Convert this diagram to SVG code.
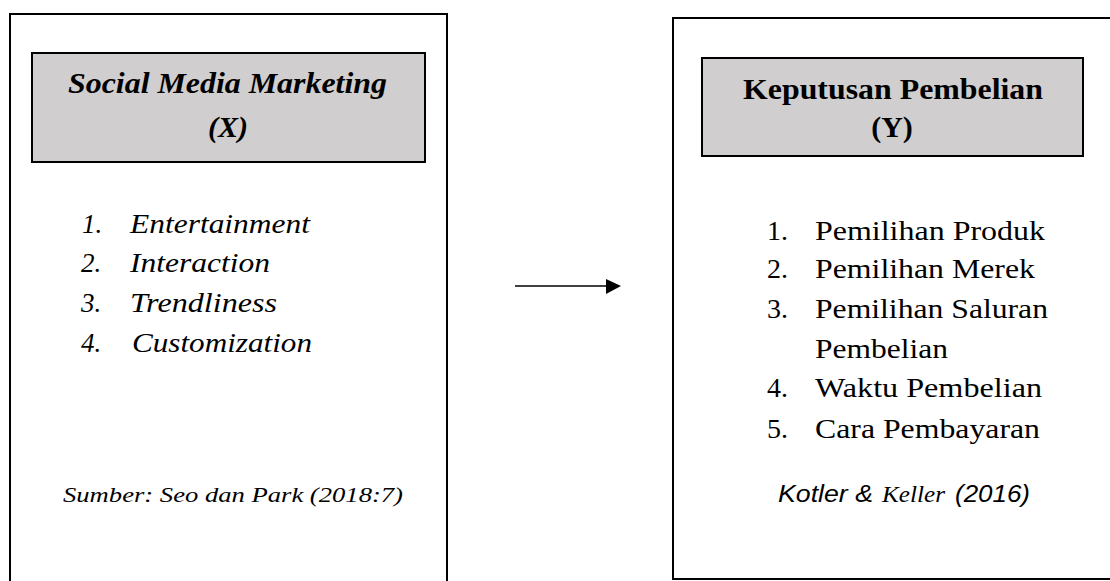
<svg xmlns="http://www.w3.org/2000/svg" width="1110" height="581" viewBox="0 0 1110 581">
<rect width="1110" height="581" fill="#fff"/>
<g id="node-x" fill="#000">
<path d="M10,581 V14 H447 V581" fill="#fff" stroke="#000" stroke-width="2"/>
<rect x="32" y="53" width="393" height="109" fill="#d0cece" stroke="#000" stroke-width="2"/>
<text font-family="Liberation Serif" font-size="30" font-weight="bold" font-style="italic" x="68" y="93" textLength="319" lengthAdjust="spacingAndGlyphs">Social Media Marketing</text>
<text font-family="Liberation Serif" font-size="30" font-weight="bold" font-style="italic" x="228" y="137" text-anchor="middle">(X)</text>
<text font-family="Liberation Serif" font-size="27" font-style="italic" x="82" y="233">1.</text>
<text font-family="Liberation Serif" font-size="27" font-style="italic" x="130" y="233" textLength="180" lengthAdjust="spacingAndGlyphs">Entertainment</text>
<text font-family="Liberation Serif" font-size="27" font-style="italic" x="81" y="272">2.</text>
<text font-family="Liberation Serif" font-size="27" font-style="italic" x="130" y="272" textLength="140" lengthAdjust="spacingAndGlyphs">Interaction</text>
<text font-family="Liberation Serif" font-size="27" font-style="italic" x="81" y="312">3.</text>
<text font-family="Liberation Serif" font-size="27" font-style="italic" x="130" y="312" textLength="147" lengthAdjust="spacingAndGlyphs">Trendliness</text>
<text font-family="Liberation Serif" font-size="27" font-style="italic" x="81" y="352">4.</text>
<text font-family="Liberation Serif" font-size="27" font-style="italic" x="132" y="352" textLength="180" lengthAdjust="spacingAndGlyphs">Customization</text>
<text font-family="Liberation Serif" font-size="22" font-style="italic" x="63" y="502" textLength="340" lengthAdjust="spacingAndGlyphs">Sumber: Seo dan Park (2018:7)</text>
</g>
<g id="node-y" fill="#000">
<path d="M1110,18 H673 V579 H1110" fill="#fff" stroke="#000" stroke-width="2"/>
<rect x="702" y="58" width="381" height="98" fill="#d0cece" stroke="#000" stroke-width="2"/>
<text font-family="Liberation Serif" font-size="30" font-weight="bold" x="743" y="99" textLength="300" lengthAdjust="spacingAndGlyphs">Keputusan Pembelian</text>
<text font-family="Liberation Serif" font-size="30" font-weight="bold" x="892" y="137" text-anchor="middle">(Y)</text>
<text font-family="Liberation Serif" font-size="28" x="767" y="240">1.</text>
<text font-family="Liberation Serif" font-size="28" x="815" y="240" textLength="230" lengthAdjust="spacingAndGlyphs">Pemilihan Produk</text>
<text font-family="Liberation Serif" font-size="28" x="767" y="278">2.</text>
<text font-family="Liberation Serif" font-size="28" x="815" y="278" textLength="220" lengthAdjust="spacingAndGlyphs">Pemilihan Merek</text>
<text font-family="Liberation Serif" font-size="28" x="767" y="318">3.</text>
<text font-family="Liberation Serif" font-size="28" x="815" y="318" textLength="233" lengthAdjust="spacingAndGlyphs">Pemilihan Saluran</text>
<text font-family="Liberation Serif" font-size="28" x="815" y="358" textLength="133" lengthAdjust="spacingAndGlyphs">Pembelian</text>
<text font-family="Liberation Serif" font-size="28" x="767" y="397">4.</text>
<text font-family="Liberation Serif" font-size="28" x="815" y="397" textLength="227" lengthAdjust="spacingAndGlyphs">Waktu Pembelian</text>
<text font-family="Liberation Serif" font-size="28" x="767" y="438">5.</text>
<text font-family="Liberation Serif" font-size="28" x="815" y="438" textLength="225" lengthAdjust="spacingAndGlyphs">Cara Pembayaran</text>
<text font-family="Liberation Sans" font-size="23" font-style="italic" x="778" y="502" textLength="95" lengthAdjust="spacingAndGlyphs">Kotler &amp;</text>
<text font-family="Liberation Serif" font-size="23" font-style="italic" x="882" y="502" textLength="63" lengthAdjust="spacingAndGlyphs">Keller</text>
<text font-family="Liberation Sans" font-size="23" font-style="italic" x="955" y="502" textLength="75" lengthAdjust="spacingAndGlyphs">(2016)</text>
</g>
<g id="connectors">
<line x1="515" y1="286" x2="607" y2="286" stroke="#000" stroke-width="1.5"/>
<polygon points="606,279 621,286 606,294" fill="#000"/>
</g>
</svg>
